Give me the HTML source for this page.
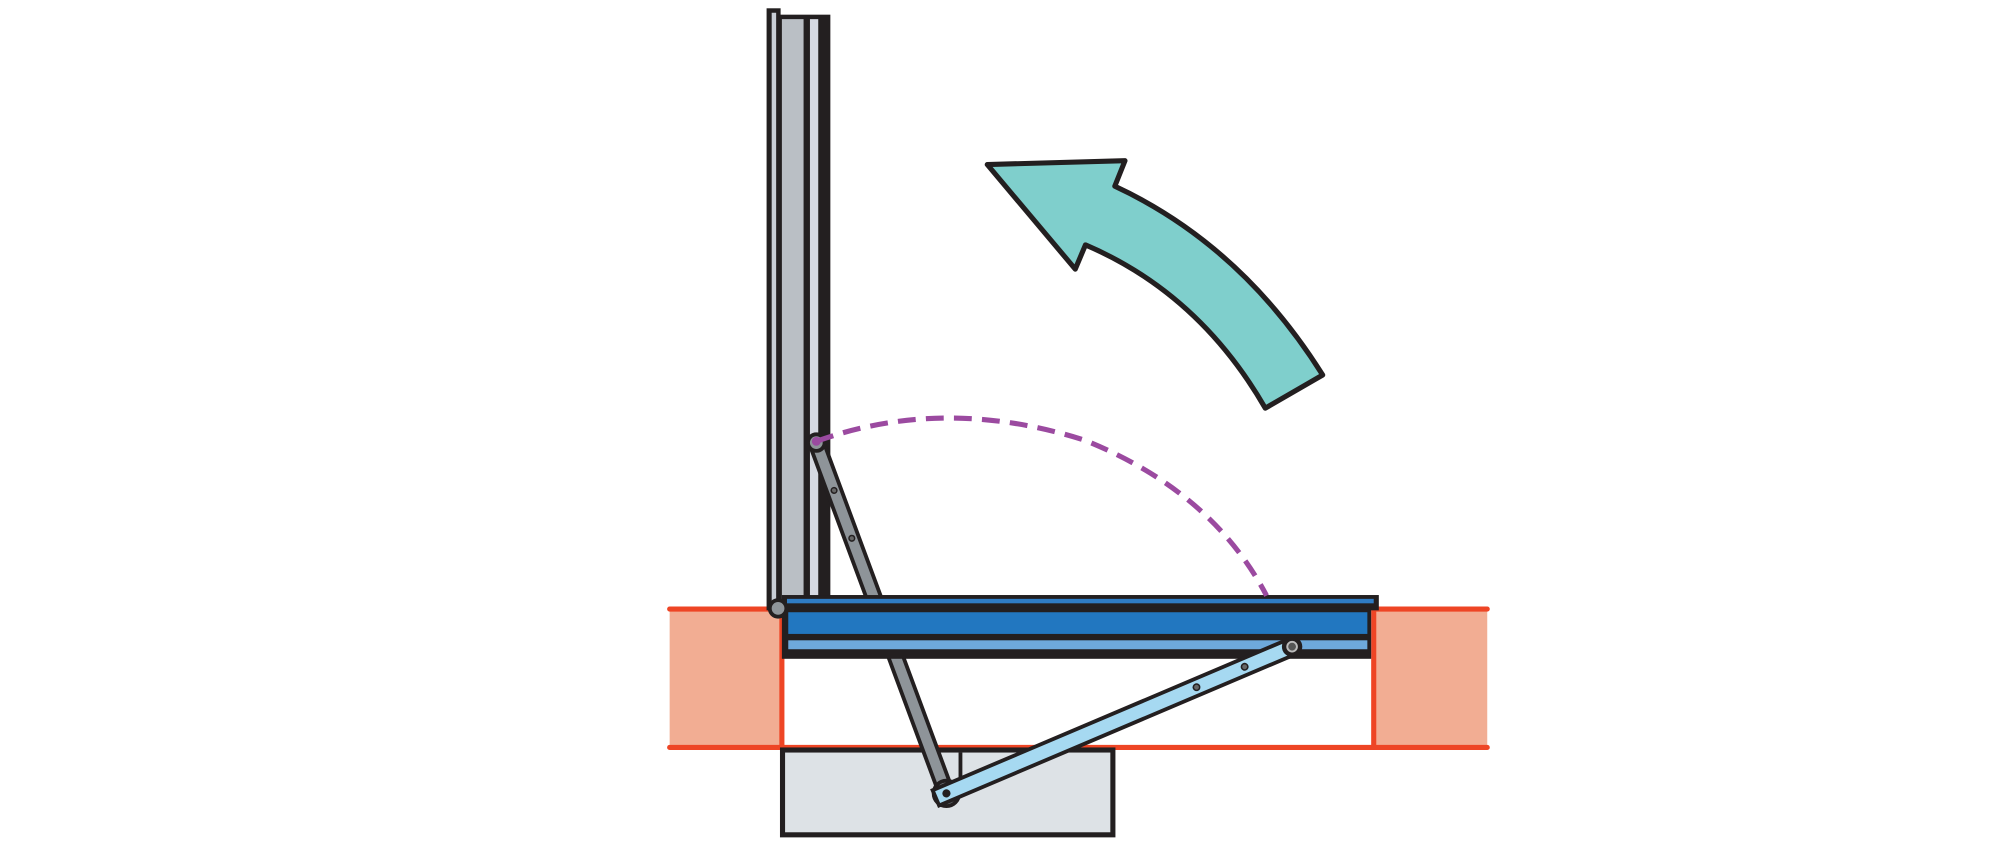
<!DOCTYPE html>
<html><head><meta charset="utf-8"><style>
html,body{margin:0;padding:0;background:#fff;width:2000px;height:850px;overflow:hidden}
svg{display:block}
</style></head><body>
<svg width="2000" height="850" viewBox="0 0 1568 666.4" preserveAspectRatio="none" xmlns="http://www.w3.org/2000/svg">
<!-- walls -->
<rect x="525" y="477" width="88" height="109" fill="#f2ad93"/>
<rect x="1077" y="477" width="89" height="109" fill="#f2ad93"/>
<g stroke="#ee4525" stroke-width="4" stroke-linecap="round" fill="none">
<line x1="525" y1="477.5" x2="613" y2="477.5"/>
<line x1="1077" y1="477.5" x2="1166" y2="477.5"/>
<line x1="525" y1="586" x2="1166" y2="586"/>
<line x1="613" y1="477" x2="613" y2="586"/>
<line x1="1077" y1="477" x2="1077" y2="586"/>
</g>
<!-- box below -->
<rect x="613.5" y="588" width="259" height="66.5" fill="#dde2e6" stroke="#231f20" stroke-width="4"/>
<line x1="753" y1="590" x2="753" y2="610" stroke="#231f20" stroke-width="3"/>
<!-- vertical sash -->
<rect x="601" y="6.5" width="11" height="472" fill="#231f20"/>
<rect x="605" y="10" width="3.5" height="462" fill="#c9ced6"/>
<rect x="611" y="11.5" width="40" height="462" fill="#231f20"/>
<rect x="613" y="15" width="17" height="456" fill="#babfc5"/>
<rect x="635" y="15" width="6.5" height="456" fill="#d6d9e2"/>
<!-- gray arm (behind sash) -->
<g transform="translate(640,347) rotate(69.65)">
<rect x="-2" y="-5.5" width="297" height="11" fill="#8e9499" stroke="#231f20" stroke-width="3"/>
<circle cx="40" cy="0" r="2.2" fill="#666" stroke="#231f20" stroke-width="1.2"/>
<circle cx="80" cy="0" r="2.2" fill="#666" stroke="#231f20" stroke-width="1.2"/>
</g>
<circle cx="640" cy="347" r="6.5" fill="#8e9499" stroke="#231f20" stroke-width="3"/>
<!-- horizontal sash -->
<rect x="613" y="466.5" width="468" height="12" fill="#231f20"/>
<rect x="617" y="469.5" width="460" height="3.5" fill="#2f7cc4"/>
<rect x="613" y="476" width="462" height="40.5" fill="#231f20"/>
<rect x="618" y="480" width="454" height="17" fill="#2277c0"/>
<rect x="618" y="502" width="454" height="7" fill="#6ea9db"/>
<!-- hinge -->
<circle cx="610" cy="477" r="6.5" fill="#8f959a" stroke="#231f20" stroke-width="3"/>
<!-- bottom pivot -->
<circle cx="742" cy="622" r="10" fill="#6e7479" stroke="#231f20" stroke-width="3"/>
<!-- light blue arm -->
<g transform="translate(742,622) rotate(-23)">
<rect x="-9" y="-6.5" width="303" height="13" fill="#a6d9f1" stroke="#231f20" stroke-width="3"/>
<circle cx="0" cy="0" r="3.2" fill="#231f20"/>
<circle cx="213" cy="0" r="2.5" fill="#666" stroke="#231f20" stroke-width="1.2"/>
<circle cx="254" cy="0" r="2.5" fill="#666" stroke="#231f20" stroke-width="1.2"/>
</g>
<circle cx="1013" cy="507" r="8" fill="#231f20"/>
<circle cx="1013" cy="507" r="3.8" fill="#555" stroke="#bbb" stroke-width="1.5"/>
<!-- dashed arc -->
<path d="M640 346 Q 740 310 850 345 Q 950 385 993 467" fill="none" stroke="#9b4aa0" stroke-width="4" stroke-dasharray="14 8"/>
<circle cx="640" cy="346" r="3.5" fill="#9b4aa0"/>
<!-- teal arrow -->
<path d="M774 129 L882 126 L874 146 Q 973 192 1037 294 L992 320 Q 940 230 851 192 L843 211 Z" fill="#7fcfcc" stroke="#231f20" stroke-width="4" stroke-linejoin="round"/>
</svg>
</body></html>
